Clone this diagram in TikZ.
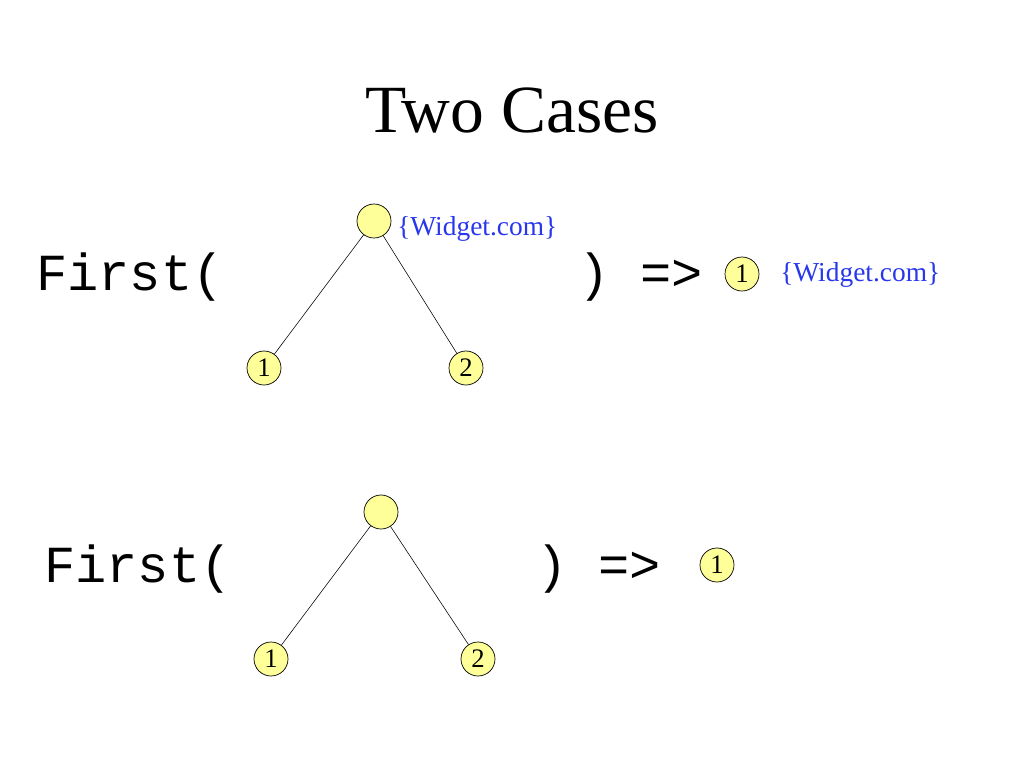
\documentclass[tikz,border=0pt]{standalone}
\usepackage{fontspec}
\setmainfont{Liberation Serif}
\setmonofont{Liberation Mono}
\usepackage{xcolor}
\definecolor{paleyellow}{RGB}{255, 255, 153}
\definecolor{linkblue}{RGB}{40, 55, 235}
\usepackage{tikz}

\tikzset{
  treenode/.style={circle,fill=paleyellow,draw=black,line width=0.5pt,
    minimum size=0.85cm,inner sep=0pt,font=\fontsize{19}{20}\selectfont},
  callword/.style={anchor=base west,inner sep=0pt,
    font=\ttfamily\fontsize{37}{40}\selectfont},
  sitelabel/.style={anchor=base west,inner sep=0pt,text=linkblue,
    font=\fontsize{19.5}{22}\selectfont}
}

\begin{document}
\begin{tikzpicture}[x=0.025cm,y=-0.025cm]
  \useasboundingbox (0,0) rectangle (1024,768);

  \node[anchor=base,inner sep=0pt,font=\fontsize{48}{52}\selectfont] (title) at (512,133) {Two Cases};

  % first case
  \node[callword] (call1) at (36,290) {First(};
  \node[treenode] (root1) at (374,221) {};
  \node[treenode] (left1) at (264,368) {1};
  \node[treenode] (right1) at (466,368) {2};
  \draw (root1) -- (left1);
  \draw (root1) -- (right1);
  \node[sitelabel] (site1) at (397,235) {\{Widget.com\}};
  \node[callword] (close1) at (578,290) {) =>};
  \node[treenode] (res1) at (742,274) {1};
  \node[sitelabel] (site2) at (780,281) {\{Widget.com\}};

  % second case
  \node[callword] (call2) at (44,582) {First(};
  \node[treenode] (root2) at (381,512) {};
  \node[treenode] (left2) at (271,659) {1};
  \node[treenode] (right2) at (478,659) {2};
  \draw (root2) -- (left2);
  \draw (root2) -- (right2);
  \node[callword] (close2) at (536,582) {) =>};
  \node[treenode] (res2) at (717,565) {1};
\end{tikzpicture}
\end{document}
